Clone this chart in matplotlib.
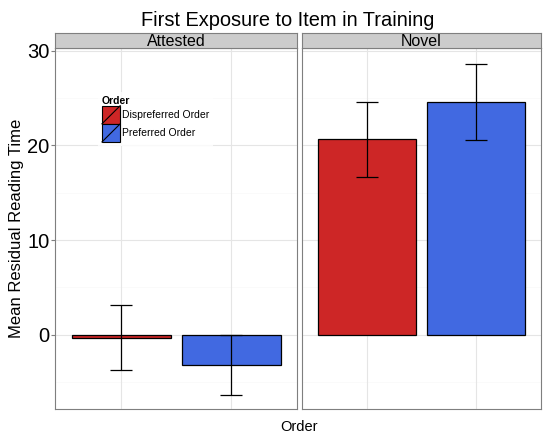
import matplotlib
matplotlib.use("Agg")
import matplotlib.pyplot as plt
from matplotlib.patches import Rectangle
from matplotlib.lines import Line2D
from matplotlib.legend_handler import HandlerPatch

plt.rcParams['font.family'] = ['Liberation Sans', 'DejaVu Sans']

facets = ["Attested", "Novel"]
orders = ["Dispreferred Order", "Preferred Order"]
means = {"Attested": [-0.3, -3.2], "Novel": [20.65, 24.6]}
lower = {"Attested": [-3.7, -6.4], "Novel": [16.7, 20.6]}
upper = {"Attested": [3.1, 0.0], "Novel": [24.55, 28.65]}
colors = ["#CD2626", "#4169E1"]
yticks = [0, 10, 20, 30]

W, H = 543, 436
fig = plt.figure(figsize=(W / 100, H / 100), dpi=100)

def fx(px):
    return px / W

def fy(py):
    return 1 - py / H

panel_top, panel_bot = 48, 409
strip_top = 33
panels_x = [(55, 297), (302, 541)]

class DiagHandler(HandlerPatch):
    def create_artists(self, legend, orig_handle, xdescent, ydescent, width, height, fontsize, trans):
        r = Rectangle((-xdescent, -ydescent), width, height, facecolor=orig_handle.get_facecolor(),
                      edgecolor="black", lw=0.8, transform=trans)
        l = Line2D([-xdescent, -xdescent + width], [-ydescent, -ydescent + height], color="black", lw=0.8,
                   transform=trans)
        return [r, l]

axes = []
for i, (f, (x0, x1)) in enumerate(zip(facets, panels_x)):
    ax = fig.add_axes([fx(x0), fy(panel_bot), fx(x1 - x0), (panel_bot - panel_top) / H])
    axes.append(ax)
    xs = [1, 2]
    for y in [-5, 5, 15, 25]:
        ax.axhline(y, color="#FAFAFA", lw=0.6, zorder=0)
    for y in yticks:
        ax.axhline(y, color="#E5E5E5", lw=0.8, zorder=0)
    for x in xs:
        ax.axvline(x, color="#E5E5E5", lw=0.8, zorder=0)
    ax.bar(xs, means[f], width=0.9, color=colors, edgecolor="black", lw=0.9, zorder=2)
    ax.vlines(xs, lower[f], upper[f], color="black", lw=0.9, zorder=3)
    ax.hlines(lower[f], [x - 0.1 for x in xs], [x + 0.1 for x in xs], color="black", lw=0.9, zorder=3)
    ax.hlines(upper[f], [x - 0.1 for x in xs], [x + 0.1 for x in xs], color="black", lw=0.9, zorder=3)
    ax.set_xlim(0.4, 2.6)
    ax.set_ylim(-7.85, 30.3)
    ax.set_xticks([])
    ax.set_yticks(yticks)
    for s in ax.spines.values():
        s.set_color("#7F7F7F")
        s.set_linewidth(0.8)
    if i == 0:
        ax.tick_params(axis="y", length=3, color="#7F7F7F", labelsize=14.5, pad=1)
        ax.set_ylabel("Mean Residual Reading Time", fontsize=12, labelpad=2)
    else:
        ax.tick_params(axis="y", length=0, labelleft=False)
    # strip
    sax = fig.add_axes([fx(x0), fy(panel_top), fx(x1 - x0), (panel_top - strip_top) / H])
    sax.set_facecolor("#CCCCCC")
    sax.set_xticks([]); sax.set_yticks([])
    for s in sax.spines.values():
        s.set_color("#7F7F7F")
        s.set_linewidth(0.8)
    sax.text(0.5, 0.42, f, ha="center", va="center", fontsize=11.5, transform=sax.transAxes)

handles = [Rectangle((0, 0), 1, 1, facecolor=c) for c in colors]
leg = axes[0].legend(handles, orders, title="Order", loc="upper left", bbox_to_anchor=(0.179, 0.878),
                     fontsize=7.5, title_fontproperties={"weight": "bold", "size": 7.5}, frameon=True,
                     handler_map={Rectangle: DiagHandler()}, handlelength=1.75, handleheight=2.3,
                     labelspacing=0, handletextpad=0.2, borderpad=0.35, borderaxespad=0, fancybox=False)
leg.get_frame().set_edgecolor("white")
leg.get_frame().set_linewidth(0)
leg._legend_box.align = "left"

fig.text(fx(288), fy(21), "First Exposure to Item in Training", ha="center", va="center", fontsize=14.4)
fig.text(fx(299), fy(427), "Order", ha="center", va="center", fontsize=10.5)

fig.savefig("out.png", dpi=100)
